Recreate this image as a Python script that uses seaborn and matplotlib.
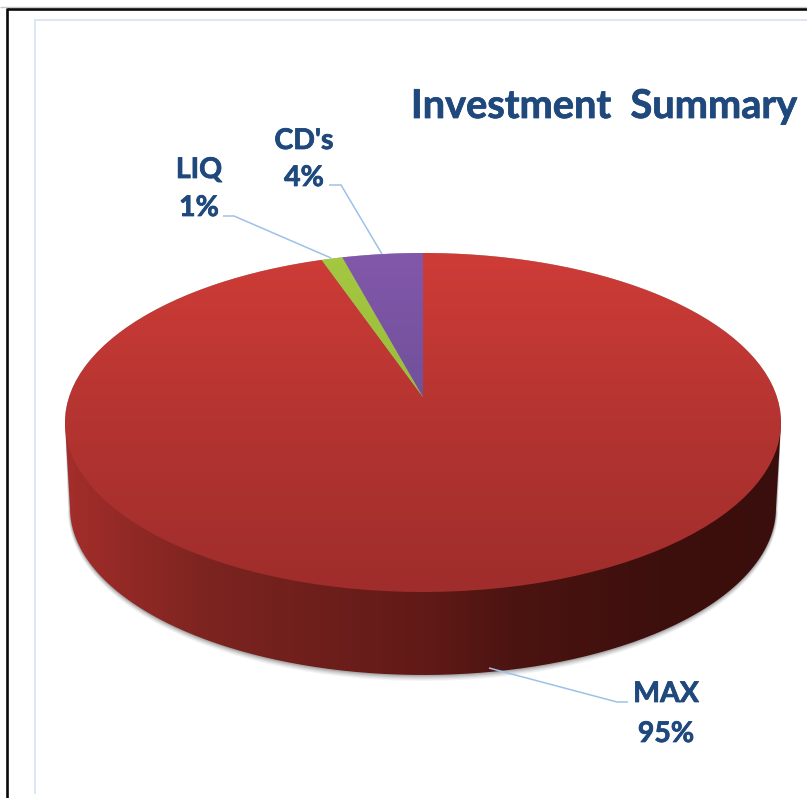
import numpy as np
import matplotlib
matplotlib.use("Agg")
import matplotlib.pyplot as plt
import matplotlib.patheffects as pe
import seaborn as sns
from matplotlib.path import Path
from matplotlib.patches import PathPatch
from matplotlib.transforms import Affine2D
from matplotlib.colors import LinearSegmentedColormap as LSC

labels = ["MAX", "LIQ", "CD's"]
values = [94.7, 1.1, 4.2]
title = "Investment  Summary"
top_colors = [["#cf3c37", "#b43431", "#9f2d2b"], ["#a4c840", "#98bc3a", "#8cae34"], ["#8258ab", "#6e4f98", "#5c4780"]]

W, H = 807, 798
CX, CY, RX, RY = 423.0, 422.5, 358.0, 169.5   # top ellipse, pixels
TILT = 0.15                                    # perspective shift of the pie apex
DEPTH_CY, DEPTH_RX, DEPTH_RY = 508.0, 353.0, 167.0
INK, LEAD = "#1f497d", "#9cc2e8"
FONT = "Lato"

sns.set_theme(style="white")
plt.rcParams["font.family"] = [FONT, "DejaVu Sans"]

fig = plt.figure(figsize=(W / 100, H / 100), dpi=100, facecolor="white")
ax = fig.add_axes([0, 0, 1, 1])
wedges, _ = ax.pie(values, startangle=90, counterclock=False, radius=1.0)
ax.set_aspect("auto")


def px(x, y):
    return (x - CX) / RX, (CY - y) / RY


def limits():
    ax.set_xlim((0 - CX) / RX, (W - CX) / RX)
    ax.set_ylim((CY - H) / RY, CY / RY)


def ellipse(cy, rx, ry, a0, a1, n=240):
    t = np.radians(np.linspace(a0, a1, n))
    return np.column_stack([px(CX + rx * np.cos(t), cy - ry * np.sin(t))[0],
                            px(CX + rx * np.cos(t), cy - ry * np.sin(t))[1]])


def gradient(patch, cols, horizontal=False, stops=None, extent=None):
    stops = stops if stops is not None else np.linspace(0, 1, len(cols))
    cm = LSC.from_list("g", list(zip(stops, cols)))
    g = np.linspace(0, 1, 400)
    img = g[None, :] if horizontal else g[:, None]
    im = ax.imshow(img, cmap=cm, aspect="auto", extent=extent, origin="upper",
                   vmin=0, vmax=1, interpolation="bilinear", zorder=patch.get_zorder())
    ax.add_patch(patch)
    patch.set_visible(True)
    im.set_clip_path(patch)


# soft shadow under the wall
outer = np.vstack([ellipse(DEPTH_CY, DEPTH_RX, DEPTH_RY, 180, 360),
                   ellipse(CY, RX, RY, 0, 180)])
for grow, alpha in [(5, .05), (4, .07), (3, .09), (2, .12), (1, .15)]:
    s = np.vstack([ellipse(DEPTH_CY + grow * .6, DEPTH_RX + grow * .4, DEPTH_RY + grow * .6, 180, 360),
                   ellipse(CY, RX, RY, 0, 180)])
    ax.add_patch(plt.Polygon(s, closed=True, fc="#303030", ec="none", alpha=alpha, zorder=1))

# side wall
wall = PathPatch(Path(np.vstack([outer, outer[:1]])), fc="none", ec="none", zorder=2)
x0, y1 = px(60, 680)
x1, y0 = px(790, 420)
gradient(wall, ["#a52e2b", "#9a2b28", "#7c2420", "#611a17", "#4c1411", "#3d0f0d", "#3a0e0c"],
         horizontal=True, stops=[0, .05, .2, .5, .62, .82, 1], extent=(x0, x1, y1, y0))

# top face: the pie's own wedges, pushed through the perspective map
ex0, ey1 = px(60, 595)
ex1, ey0 = px(790, 250)
for w, cols in zip(wedges, top_colors):
    w.set_visible(False)
    poly = w.get_path().to_polygons(Affine2D().scale(500), closed_only=True)[0] / 500
    x, y = poly[:, 0], poly[:, 1]
    d = 1 + TILT * y
    out = np.column_stack([x * np.sqrt(1 - TILT ** 2) / d, (y + TILT) / d])
    patch = PathPatch(Path(out), fc="none", ec="none", zorder=3)
    gradient(patch, cols, extent=(ex0, ex1, ey1, ey0))

limits()


def line(xs, ys, color=LEAD, lw=1.1, z=5):
    p = px(np.array(xs, float), np.array(ys, float))
    ax.plot(p[0], p[1], color=color, lw=lw, zorder=z, solid_capstyle="butt", solid_joinstyle="miter")


def text(x, y, s, size):
    t = ax.text(*px(x, y), s, color=INK, fontsize=size, fontweight="bold", ha="center", va="center", zorder=6)
    t.set_path_effects([pe.withStroke(linewidth=0.55, foreground=INK)])


# frame
line([0, W], [7, 7], color="#c8c8c8", lw=1.0)
line([6.8, W], [8.8, 8.8], color="#0a0a0a", lw=1.9)
line([6.8, 6.8], [8, H], color="#0a0a0a", lw=1.9)
line([35, W], [19.8, 19.8], color="#dce6f4", lw=1.4)
line([35, 35], [19, 794], color="#dce6f4", lw=1.4)

# leaders and labels
line([489, 617, 628], [668, 702, 702])
line([223, 234, 331], [216, 216, 258])
line([329, 341, 382], [185, 185, 254])
text(604, 106.5, title, 28.6)
for name, v, (lx, ly1, ly2) in zip(labels, values, [(666, 694, 734), (199, 170, 208), (304, 141, 178)]):
    text(lx, ly1, name, 20.5)
    text(lx, ly2, f"{v:.0f}%", 20.5)

ax.axis("off")
fig.savefig("out.png", dpi=100, facecolor="white")
